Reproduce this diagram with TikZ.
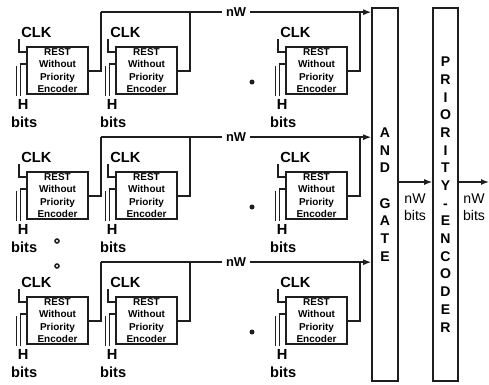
\documentclass[tikz,border=0pt]{standalone}
\usepackage{fontspec}
\setmainfont{Liberation Sans}
\usepackage{tikz}
\usepackage{xcolor}
\usetikzlibrary{arrows.meta,positioning,calc}
\definecolor{pen}{HTML}{1E1E1E}
\tikzset{
  restbox/.style ={draw=pen, fill=white, line width=1.4pt,
                   minimum width=1.83cm, minimum height=1.41cm,
                   align=center, inner sep=0pt,
                   font=\fontsize{8.5}{10.4}\selectfont\bfseries},
  gatebox/.style ={draw=pen, line width=1.3pt,
                   minimum width=0.78cm, minimum height=11.19cm,
                   align=center, inner sep=0pt,
                   font=\fontsize{12}{15.1}\selectfont\bfseries},
  wire/.style    ={draw=pen, line width=1.2pt},
  arr/.style     ={wire, -{Latex[length=2.4mm,width=1.8mm]}},
  siglab/.style  ={font=\fontsize{12.5}{14}\selectfont\bfseries, inner sep=0pt},
  buslab/.style  ={font=\fontsize{12}{14.5}\selectfont, align=center, inner sep=0pt},
  wlab/.style    ={font=\fontsize{11}{12}\selectfont\bfseries, fill=white,
                   inner xsep=3.5pt, inner ysep=1pt},
}

\begin{document}
\begin{tikzpicture}[x=0.03cm,y=-0.03cm]
  \useasboundingbox (0,0) rectangle (489,384);

  \node[gatebox] (andg) at (385,194.5) {A\\N\\D\\~\\G\\A\\T\\E};
  \node[gatebox,minimum width=0.75cm] (prio) at (445.5,194.5)
    {P\\R\\I\\O\\R\\I\\T\\Y\\-\\E\\N\\C\\O\\D\\E\\R};

  % three rows of REST blocks
  \foreach \r/\ty in {1/70.5,2/195.5,3/320.5} {
    \foreach \c/\cx in {1/57.5,2/146.5,3/316.5} {
      \node[restbox] (b\r\c) at (\cx,\ty) {REST\\Without\\Priority\\Encoder};
      \node[siglab,anchor=west] (clk\r\c) at ([shift={(-5,-14)}]b\r\c.north west) {CLK};
      \node[siglab] (h\r\c) at ([shift={(-3,58)}]b\r\c.north west) {H};
      \node[siglab] (bits\r\c) at ([shift={(-2,76)}]b\r\c.north west) {bits};
      \draw[wire] ([shift={(-7,-7)}]b\r\c.north west) |- ([shift={(0,6)}]b\r\c.north west);
      \draw[wire] ([shift={(0,18)}]b\r\c.north west) -| ([shift={(-5.5,50)}]b\r\c.north west);
      \draw[wire] ([shift={(-9.5,20)}]b\r\c.north west) -- ([shift={(-9.5,50)}]b\r\c.north west);
      \coordinate (t\r\c) at ([shift={(12,-34)}]b\r\c.north east);
      \draw[wire] ([shift={(0,25)}]b\r\c.north east) -| (t\r\c);
    }
    \draw[arr] (t\r1) -- node[wlab] (nw\r) {nW} (t\r1 -| andg.west);
    \fill[pen] (252,{\ty+11.5}) circle (2.5);
  }

  \draw[pen,line width=1.3pt] (57,241) circle (2);
  \draw[pen,line width=1.3pt] (57,266) circle (2);

  \coordinate (m) at (0,182);
  \coordinate (out) at (489,182);
  \draw[arr] (andg.east |- m) -- (prio.west |- m);
  \draw[arr] (prio.east |- m) -- (out);
  \node[buslab] (bus1) at (415,207.5) {nW\\bits};
  \node[buslab] (bus2) at (474,207.5) {nW\\bits};
\end{tikzpicture}
\end{document}
